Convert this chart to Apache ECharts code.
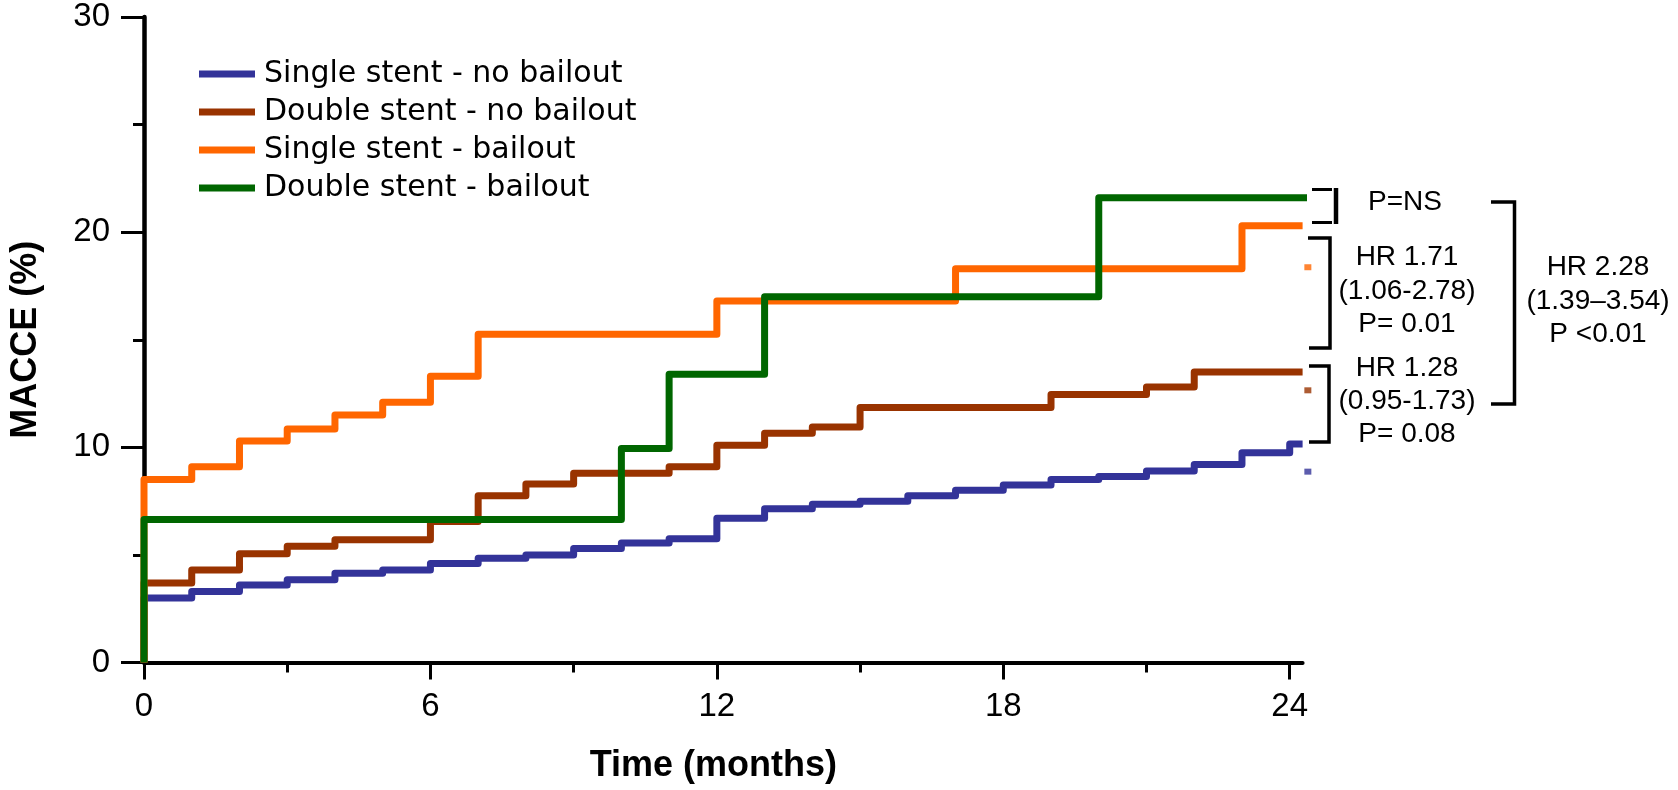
<!DOCTYPE html>
<html><head><meta charset="utf-8">
<script src="https://cdn.jsdelivr.net/npm/echarts@6/dist/echarts.min.js"></script>
<style>html,body{margin:0;padding:0;background:#fff}#c{width:1678px;height:790px}</style>
</head><body><div id="c"></div>
<script>
// ---- Data ----
const seriesNames = ['Single stent - no bailout', 'Double stent - no bailout', 'Single stent - bailout', 'Double stent - bailout'];
const seriesColors = ['#333399', '#993300', '#FF6600', '#006600'];

const monthsSingleNoBailout = [0, 0, 1, 2, 3, 4, 5, 6, 7, 8, 9, 10, 11, 12, 13, 14, 15, 16, 17, 18, 19, 20, 21, 22, 23, 24, 24.27];
const macceSingleNoBailout  = [0, 3.0, 3.3, 3.6, 3.85, 4.15, 4.3, 4.6, 4.85, 5.0, 5.3, 5.55, 5.75, 6.7, 7.15, 7.35, 7.5, 7.75, 8.0, 8.25, 8.5, 8.65, 8.9, 9.2, 9.75, 10.15, 10.15];

const monthsDoubleNoBailout = [0, 0, 1, 2, 3, 4, 6, 7, 8, 9, 11, 12, 13, 14, 15, 19, 21, 22, 24.27];
const macceDoubleNoBailout  = [0, 3.7, 4.3, 5.05, 5.4, 5.7, 6.55, 7.75, 8.3, 8.8, 9.1, 10.1, 10.65, 10.95, 11.85, 12.45, 12.8, 13.5, 13.5];

const monthsSingleBailout = [0, 0, 1, 2, 3, 4, 5, 6, 7, 12, 17, 23, 24.27];
const macceSingleBailout  = [0, 8.5, 9.1, 10.3, 10.85, 11.5, 12.1, 13.3, 15.25, 16.8, 18.3, 20.3, 20.3];

const monthsDoubleBailout = [0, 0, 10, 11, 13, 20, 24.44];
const macceDoubleBailout  = [0, 6.65, 9.95, 13.4, 17.0, 21.6, 21.6];

// small end marks drawn right of the curves
const markMonths = [24.38, 24.38, 24.38];
const markValues = [18.37, 12.65, 8.87];
const markColors = ['#FF6600', '#993300', '#333399'];

const xMajorTicks = [0, 6, 12, 18, 24];
const xMinorTicks = [3, 9, 15, 21];
const xMax = 24.27;
const yTicks = [0, 10, 20, 30];

// ---- Chart ----
const FONT = '"Liberation Sans", Arial, Helvetica, sans-serif';
const chart = echarts.init(document.getElementById('c'), null, {renderer: 'canvas'});
const pairs = (t, v) => t.map((x, i) => [x, v[i]]);
const mkLine = (i, t, v) => ({
  type: 'line', name: seriesNames[i], data: pairs(t, v), step: 'end',
  symbol: 'none', showSymbol: false, clip: false, z: 2 + i,
  lineStyle: {color: seriesColors[i], width: 7, cap: 'butt', join: 'round'},
  itemStyle: {color: seriesColors[i]}
});

const series = [
  mkLine(0, monthsSingleNoBailout, macceSingleNoBailout),
  mkLine(1, monthsDoubleNoBailout, macceDoubleNoBailout),
  mkLine(2, monthsSingleBailout, macceSingleBailout),
  mkLine(3, monthsDoubleBailout, macceDoubleBailout),
  {
    type: 'scatter', name: 'end marks', clip: false, symbol: 'rect', symbolSize: [7, 6],
    data: markMonths.map((m, i) => ({value: [m, markValues[i]], itemStyle: {color: markColors[i]}})),
    z: 1
  }
];

const txt = (text, x, y, lh) => ({
  type: 'text', x: x, y: y, silent: true,
  style: {text: text, fontSize: 28, fontFamily: FONT, fill: '#000', align: 'center', verticalAlign: 'middle', lineHeight: lh}
});
const poly = (pts, w) => ({type: 'polyline', silent: true, shape: {points: pts}, style: {stroke: '#000', lineWidth: w || 3.5, fill: null, lineJoin: 'miter'}});

chart.setOption({
  animation: false,
  backgroundColor: '#fff',
  grid: {left: 141.5, right: 375.4, top: 17, bottom: 127.5, containLabel: false},
  legend: {
    data: seriesNames, orient: 'vertical', left: 194, top: 50,
    icon: 'rect', itemWidth: 56, itemHeight: 7, itemGap: 0,
    textStyle: {fontFamily: '"DejaVu Sans", sans-serif', fontSize: 30, color: '#000', lineHeight: 38, padding: [0, 0, 0, 4]}
  },
  xAxis: [{
    type: 'value', min: 0, max: xMax,
    axisLine: {show: true, lineStyle: {color: '#000', width: 4}},
    axisTick: {show: true, customValues: xMajorTicks, length: 17, lineStyle: {color: '#000', width: 3}},
    axisLabel: {show: true, customValues: xMajorTicks, fontSize: 33, fontFamily: FONT, color: '#000', margin: 28},
    splitLine: {show: false},
    name: 'Time (months)', nameLocation: 'middle', nameGap: 86,
    nameTextStyle: {fontSize: 36, fontWeight: 'bold', fontFamily: FONT, color: '#000', padding: [0, 20, 0, 0]}
  }, {
    type: 'value', min: 0, max: xMax, position: 'bottom',
    axisLine: {show: false},
    axisTick: {show: true, customValues: xMinorTicks, length: 10, lineStyle: {color: '#000', width: 3}},
    axisLabel: {show: false}, splitLine: {show: false}
  }],
  yAxis: {
    type: 'value', min: yTicks[0], max: yTicks[yTicks.length - 1], interval: 10,
    axisLine: {show: true, lineStyle: {color: '#000', width: 4.5}},
    axisTick: {show: true, length: 23, lineStyle: {color: '#000', width: 3}},
    minorTick: {show: true, splitNumber: 2, length: 11, lineStyle: {color: '#000', width: 3}},
    axisLabel: {fontSize: 33, fontFamily: FONT, color: '#000', margin: 34},
    splitLine: {show: false}, minorSplitLine: {show: false},
    name: 'MACCE (%)', nameLocation: 'middle', nameGap: 100,
    nameTextStyle: {fontSize: 36, fontWeight: 'bold', fontFamily: FONT, color: '#000'}
  },
  graphic: [
    // P=NS bracket
    poly([[1312, 189.5], [1332, 189.5]], 3),
    poly([[1312, 222.5], [1332, 222.5]], 3),
    poly([[1336, 188], [1336, 224]], 4.5),
    txt('P=NS', 1405, 202, 34),
    // HR 1.71 bracket
    poly([[1308, 238], [1330, 238], [1330, 348], [1309, 348]], 3.5),
    txt('HR 1.71\n(1.06-2.78)\nP= 0.01', 1407, 291, 33.4),
    // HR 1.28 bracket
    poly([[1309, 366], [1329, 366], [1329, 442], [1309, 442]], 3.5),
    txt('HR 1.28\n(0.95-1.73)\nP= 0.08', 1407, 401, 33),
    // HR 2.28 bracket
    poly([[1491, 202], [1514.5, 202], [1514.5, 404], [1491, 404]], 3.5),
    txt('HR 2.28\n(1.39\u20133.54)\nP <0.01', 1598, 301, 33.4)
  ],
  series: series
});
</script></body></html>
